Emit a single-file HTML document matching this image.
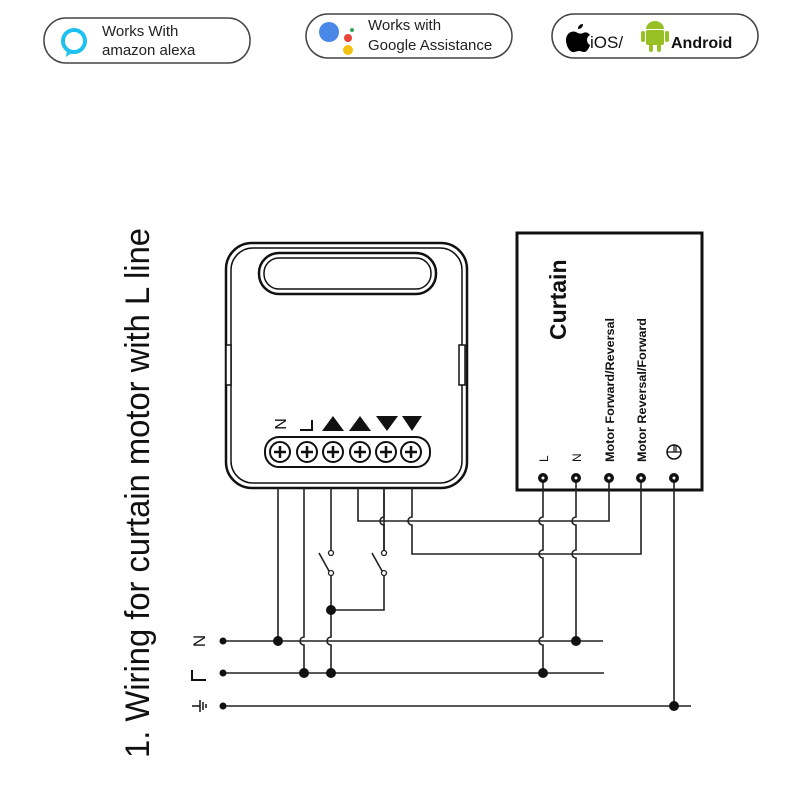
<!DOCTYPE html>
<html><head><meta charset="utf-8"><style>
html,body{margin:0;padding:0;background:#fff;}
svg{display:block;font-family:"Liberation Sans",sans-serif;}
</style></head><body>
<svg width="800" height="800" viewBox="0 0 800 800" xmlns="http://www.w3.org/2000/svg">
<rect width="800" height="800" fill="#fff"/>
<rect x="44" y="18" width="206" height="45" rx="22" fill="#fff" stroke="#444" stroke-width="1.5"/>
<circle cx="74" cy="41" r="11" fill="none" stroke="#1ec0f0" stroke-width="4"/>
<path d="M67 50 L66 57 L73 52" fill="#1ec0f0"/>
<text x="102" y="36" font-size="15" fill="#222">Works With</text>
<text x="102" y="55" font-size="15" fill="#222">amazon alexa</text>

<rect x="306" y="14" width="206" height="44" rx="22" fill="#fff" stroke="#444" stroke-width="1.5"/>
<circle cx="329" cy="32" r="10" fill="#4a88e8"/>
<circle cx="348" cy="38" r="4" fill="#e84438"/>
<circle cx="352" cy="30" r="2" fill="#34a853"/>
<circle cx="348" cy="50" r="5" fill="#f4c20d"/>
<text x="368" y="30" font-size="15" fill="#222">Works with</text>
<text x="368" y="50" font-size="15" fill="#222">Google Assistance</text>

<rect x="552" y="14" width="206" height="44" rx="22" fill="#fff" stroke="#444" stroke-width="1.5"/>
<path d="M576 32 c-6 -2 -10 3 -10 8 c0 6 4 13 8 12 c2 0 3 -1 5 -1 c2 0 3 1 5 1 c3 0 5 -4 6 -7 c-4 -2 -4 -8 0 -10 c-2 -3 -5 -3 -7 -2 c-2 1 -4 1 -7 -1z M578 29 c0 -3 2 -5 5 -5 c0 3 -2 5 -5 5z" fill="#000"/>
<text x="590" y="48" font-size="17" fill="#111">iOS/</text>
<rect x="646" y="30" width="18" height="15" rx="2" fill="#97c024"/>
<path d="M646 29 a9 8 0 0 1 18 0z" fill="#97c024"/>
<rect x="641" y="31" width="4" height="11" rx="2" fill="#97c024"/>
<rect x="665" y="31" width="4" height="11" rx="2" fill="#97c024"/>
<rect x="649" y="44" width="4" height="8" rx="2" fill="#97c024"/>
<rect x="657" y="44" width="4" height="8" rx="2" fill="#97c024"/>
<text x="671" y="48" font-size="16" font-weight="bold" fill="#111">Android</text>

<text transform="translate(149,758) rotate(-90)" font-size="34" fill="#111" textLength="530" lengthAdjust="spacingAndGlyphs">1. Wiring for curtain motor with L line</text>

<rect x="226" y="243" width="241" height="245" rx="26" fill="#fff" stroke="#111" stroke-width="2.5"/>
<rect x="231" y="248" width="231" height="235" rx="22" fill="none" stroke="#111" stroke-width="1.5"/>
<rect x="259" y="253" width="177" height="41" rx="20" fill="none" stroke="#111" stroke-width="2.5"/>
<rect x="264" y="258" width="167" height="31" rx="15" fill="none" stroke="#111" stroke-width="1.5"/>
<rect x="226" y="345" width="5" height="40" fill="#fff" stroke="#111" stroke-width="1.5"/>
<rect x="459" y="345" width="6" height="40" fill="#fff" stroke="#111" stroke-width="1.5"/>
<text x="280" y="430" font-size="16" text-anchor="middle" transform="rotate(-90 280 424)" fill="#111">N</text>
<path d="M300 430 H312 V420" fill="none" stroke="#111" stroke-width="2"/>
<path d="M322 431 L333 416 L344 431Z M349 431 L360 416 L371 431Z" fill="#111"/>
<path d="M376 416 L387 431 L398 416Z M402 416 L412 431 L422 416Z" fill="#111"/>
<rect x="265" y="437" width="165" height="30" rx="14" fill="#fff" stroke="#111" stroke-width="2"/>
<g fill="#fff" stroke="#111" stroke-width="2">
<circle cx="280" cy="452" r="10"/><circle cx="307" cy="452" r="10"/><circle cx="333" cy="452" r="10"/><circle cx="360" cy="452" r="10"/><circle cx="386" cy="452" r="10"/><circle cx="411" cy="452" r="10"/>
</g>
<g stroke="#111" stroke-width="2.5">
<path d="M274 452h12M280 446v12M301 452h12M307 446v12M327 452h12M333 446v12M354 452h12M360 446v12M380 452h12M386 446v12M405 452h12M411 446v12"/>
</g>

<rect x="517" y="233" width="185" height="257" fill="#fff" stroke="#111" stroke-width="3"/>
<text transform="translate(566,340) rotate(-90)" font-size="23" font-weight="bold" fill="#111">Curtain</text>
<text transform="translate(548,462) rotate(-90)" font-size="12" fill="#111">L</text>
<text transform="translate(581,462) rotate(-90)" font-size="12" fill="#111">N</text>
<text transform="translate(614,462) rotate(-90)" font-size="11.5" font-weight="bold" fill="#111" textLength="144" lengthAdjust="spacingAndGlyphs">Motor Forward/Reversal</text>
<text transform="translate(646,462) rotate(-90)" font-size="11.5" font-weight="bold" fill="#111" textLength="144" lengthAdjust="spacingAndGlyphs">Motor Reversal/Forward</text>
<circle cx="674" cy="452" r="7" fill="none" stroke="#111" stroke-width="1.5"/>
<path d="M667 452h14M674 452v-7M676 452v-7" stroke="#111" stroke-width="1.2"/>

<g fill="none" stroke="#222" stroke-width="1.6">
<path d="M278 488V641"/>
<path d="M304 488V637 a4 4 0 0 0 0 8 V673"/>
<path d="M331 488V553"/>
<path d="M331 573V637 a4 4 0 0 0 0 8 V673"/>
<path d="M384 488V553"/>
<path d="M384 573V610H331"/>
<path d="M358 488V521H609V478"/>
<path d="M384 488V517 a4 4 0 0 0 0 8 V553"/>
<path d="M412 488V517 a4 4 0 0 0 0 8 V554H641V478"/>
<path d="M543 478V517 a4 4 0 0 0 0 8 V550 a4 4 0 0 0 0 8 V637 a4 4 0 0 0 0 8 V673"/>
<path d="M576 478V517 a4 4 0 0 0 0 8 V550 a4 4 0 0 0 0 8 V641"/>
<path d="M674 478V706"/>
<path d="M223 641H603M223 673H604M223 706H691"/>
<path d="M319 553L329 571M372 553L382 571"/>
</g>
<g fill="#fff" stroke="#222" stroke-width="1.3">
<circle cx="331" cy="553" r="2.5"/><circle cx="331" cy="573" r="2.5"/><circle cx="384" cy="553" r="2.5"/><circle cx="384" cy="573" r="2.5"/>
</g>
<g fill="#111">
<circle cx="223" cy="641" r="3.5"/><circle cx="223" cy="673" r="3.5"/><circle cx="223" cy="706" r="3.5"/>
<circle cx="278" cy="641" r="5"/><circle cx="576" cy="641" r="5"/>
<circle cx="304" cy="673" r="5"/><circle cx="331" cy="673" r="5"/><circle cx="543" cy="673" r="5"/>
<circle cx="674" cy="706" r="5"/><circle cx="331" cy="610" r="5"/>
<circle cx="543" cy="478" r="5"/><circle cx="576" cy="478" r="5"/><circle cx="609" cy="478" r="5"/><circle cx="641" cy="478" r="5"/><circle cx="674" cy="478" r="5"/>
</g>
<g fill="#fff"><circle cx="543" cy="478" r="1.5"/><circle cx="576" cy="478" r="1.5"/><circle cx="609" cy="478" r="1.5"/><circle cx="641" cy="478" r="1.5"/><circle cx="674" cy="478" r="1.5"/></g>
<text transform="translate(205,641) rotate(-90)" font-size="17" text-anchor="middle" fill="#111">N</text>
<path d="M192 670V680H206" fill="none" stroke="#111" stroke-width="2"/>
<path d="M192 706h8M200 700v12M203 702v8M206 704v4" stroke="#111" stroke-width="1.5"/>
</svg>
</body></html>
